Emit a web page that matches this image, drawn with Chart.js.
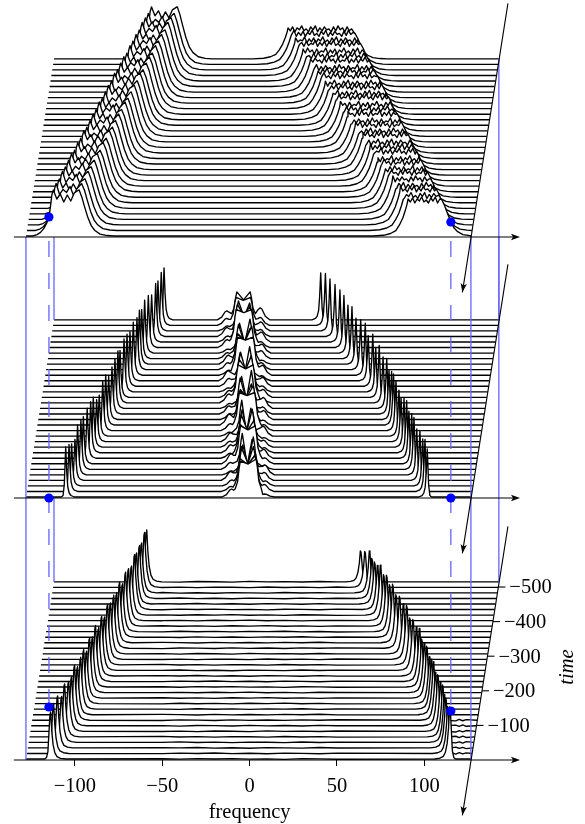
<!DOCTYPE html>
<html>
<head>
<meta charset="utf-8">
<title>frequency / time waterfall</title>
<script src="https://cdn.jsdelivr.net/npm/chart.js@4"></script>
<style>
  html, body { margin: 0; padding: 0; background: #fff; }
  canvas { display: block; }
</style>
</head>
<body>
<canvas id="chart" width="585" height="824"></canvas>
<script>
// ---------- axis data ----------
const freqTicks = [-100, -50, 0, 50, 100];
const timeTicks = [-100, -200, -300, -400, -500];
const timeAxisEnds = [160, -675];
const rowTimes = [0, -16, -32, -48, -64, -80, -96, -112, -128, -144, -160, -176, -192, -208, -224, -240, -256,
  -272, -288, -304, -320, -336, -352, -368, -384, -400, -416, -432, -448, -464, -480, -496, -512];
const panelBase = [587, 326, 64];      // height of each panel's frequency axis
const rowStartFreq = -128, rowEndFreq = 126.8;

// ---------- top panel: two wide humps with a jagged top ----------
const humpLeftFront = [-113.2, -111.6, -109.8, -108, -106.3, -104.5, -102.8, -101, -99.2, -97.5, -95.7, -94, -92.2, -90.4, -88.7, -86.9, -85.2,
  -83.4, -81.6, -79.9, -78.1, -76.4, -74.6, -72.8, -71.1, -69.3, -67.6, -65.8, -64, -62.3, -60.5, -58.8, -57];
const humpLeftAmp = [46, 47, 46, 48, 47, 48, 49, 47, 49, 48, 50, 48, 49, 50, 49, 51, 49, 50, 51, 50, 52, 50, 51, 52, 50, 52, 51, 52, 51, 53, 52, 51, 52];
const humpRightFront = [90.7, 88.5, 86.4, 84.2, 82, 79.9, 77.8, 75.7, 73.5, 71.4, 69.2, 67, 64.9, 62.8, 60.7, 58.5, 56.3,
  54.2, 52, 49.9, 47.8, 45.6, 43.4, 41.3, 39.2, 37, 34.9, 32.7, 30.6, 28.5, 26.3, 24.1, 22];
const humpRightBack = [110.1, 108.5, 106.9, 105.3, 103.7, 102, 100.4, 98.8, 97.2, 95.6, 94, 92.4, 90.8, 89.2, 87.6, 86, 84.4,
  82.8, 81.1, 79.5, 77.9, 76.3, 74.7, 73.1, 71.5, 69.9, 68.3, 66.7, 65.1, 63.5, 61.9, 60.3, 58.6];
const humpRightAmp = [36, 35, 36, 34, 35, 36, 34, 35, 33, 35, 34, 33, 35, 33, 34, 32, 34, 33, 32, 34, 32, 33, 31, 33, 32, 30, 32, 31, 30, 32, 30, 31, 30];
const jagLeftX = [0, 2, 4, 6, 8, 10, 12, 14.6];
const jagLeftA = [0, -9, -4, -12, -5, -11, -3, 0];
const jagLeftB = [0, -11, -6, -9, -3, -12, -5, 0];
const jagRight = [1, -2, 2, -3, 1, -1, 3, -2, 0, -3, 2, -1, 3, -3, 1, -2, 2, -1, 0, -3, 2, -2, 3, -1, 1, -3, 2, -2, 0, -1, 3, -3];
const riseWide = [[-20, 0], [-14, .02], [-10, .07], [-7, .15], [-5, .3], [-3, .5], [-1.5, .72], [-.5, .9]];
const riseSteep = [[-11, 0], [-8.5, .03], [-6.5, .08], [-4.5, .17], [-3, .28], [-1.7, .4], [-.8, .65], [0, .9]];
const fallSoft = [[0, 1], [1.5, .85], [3, .65], [5, .4], [7, .22], [9, .12], [12, .04], [16, .01], [20, 0]];

// ---------- middle and bottom panels: narrow peaks ----------
const midLeftPeak = [-105.3, -103.4, -101.9, -100, -98.5, -96.6, -95.2, -93, -91, -89.5, -87.6, -86.1, -84.1, -82.4, -80.7, -78.8, -77.1,
  -75.4, -74.2, -71.9, -70.2, -68.5, -66.6, -64.5, -63.1, -61.8, -60.1, -58, -56.1, -53.8, -52.5, -50.6, -49];
const midLeftAmp = [50, 47, 42, 41, 50, 49, 47, 50, 51, 50, 42, 41, 49, 50, 43, 47, 50, 52, 47, 53, 52, 49, 53, 52, 54, 49, 53, 52, 47, 53, 50, 53, 52];
const midRightPeak = [101.7, 100.4, 99.1, 97.5, 95.7, 94.1, 92.8, 91.2, 89.9, 88.4, 86.7, 85.5, 83.8, 82.4, 81.3, 79.8, 78.5,
  76.4, 74.2, 72.2, 70.5, 67.9, 66.2, 63.6, 60.9, 58.6, 56.3, 54, 51.7, 48.9, 46, 43.4, 40.7];
const midRightAmp = [48, 52, 47, 50, 46, 52, 50, 47, 52, 49, 44, 46, 50, 51, 48, 44, 50, 46, 52, 44, 52, 45, 52, 50, 46, 52, 48, 52, 52, 52, 52, 52, 47];
const blobCenter = [-0.8, -1.2, -0.6, -1.3, -0.9, -1.4, -1, -1.6, -1.2, -1.7, -1.3, -1.9, -1.5, -2, -1.6, -2.2, -1.8, -2.3, -2, -2.5, -2.2, -2.7, -2.4, -2.9, -2.6, -3.1, -2.8, -3.3, -3, -3.4, -3.2, -3.6, -3.5];
const blobSep = [4.5, 4.3, 4, 3.5, 3, 2.8, 4.2, 4, 3.6, 3.2, 3, 2.6, 4.4, 4.1, 3.7, 3.2, 2.8, 4.3, 4, 3.5, 3, 2.7, 4.5, 4.2, 3.8, 3.3, 3, 4.4, 4, 3.6, 3.2, 4.2, 3.8];
const blobAmpL = [36, 33, 38, 34, 30, 36, 38, 34, 38, 30, 32, 36, 38, 34, 30, 36, 32, 38, 38, 30, 34, 28, 38, 36, 30, 34, 30, 38, 32, 32, 30, 28, 28];
const blobAmpR = [38, 36, 32, 34, 38, 30, 38, 30, 32, 38, 30, 28, 38, 32, 34, 30, 38, 38, 30, 36, 30, 34, 38, 32, 38, 30, 34, 38, 32, 30, 28, 28, 28];
const blobDip = [33, 27, 21, 15, 9, 4, 34, 28, 22, 15, 8, 3, 35, 29, 22, 16, 9, 34, 28, 21, 15, 8, 35, 29, 23, 16, 10, 35, 28, 21, 14, 25, 20];
const bumpL = [8, 5, 6, 9, 4, 7, 10, 5, 8, 6, 9, 4, 7, 11, 6, 8, 5, 9, 7, 4, 8, 10, 5, 7, 9, 6, 4, 8, 6, 9, 5, 7, 9];
const bumpR = [3, 7, 5, 8, 10, 4, 6, 9, 5, 7, 4, 10, 6, 5, 9, 7, 11, 4, 8, 6, 9, 5, 10, 7, 4, 8, 9, 6, 10, 7, 9, 8, 12];
const peakNarrow = [[-2.5, 0], [-1.5, .03], [-.8, .25], [0, 1], [.6, .5], [1.2, .2], [2, .08], [3, .03], [5, 0]];
const blobBump = [[-15, 0], [-12.5, .3], [-10.5, .9], [-9.5, 1], [-8.3, .85]];
const blobWall = [[-3, .22], [-1.6, .42], [-.7, .8], [0, 1]];

const lowLeftPeak = [-114.3, -112.6, -110.3, -108, -106.3, -104, -102.3, -100.6, -98.9, -97.1, -95.4, -93.7, -92, -90.3, -88.6, -86.8, -85.1,
  -83.4, -81.7, -80, -78.2, -76.5, -74.8, -73.1, -71.4, -69.7, -68, -66.2, -65.1, -63.4, -62.2, -60.5, -59.3];
const lowLeftAmp = [47, 50, 52, 46, 53, 50, 49, 55, 48, 52, 54, 47, 55, 50, 56, 49, 54, 48, 55, 51, 53, 50, 55, 48, 54, 52, 49, 55, 51, 53, 50, 55, 52];
const lowRightPeak = [114.9, 113.7, 112.6, 111.7, 110.8, 109.5, 108, 106.6, 105.5, 104.3, 103.2, 101.7, 100.3, 98.8, 97.5, 95.8, 93.8,
  92, 90.2, 88.3, 86.1, 84.1, 82.2, 80.4, 78.7, 77, 75.2, 73.5, 71.8, 70.3, 68.9, 66.3, 63.8];
const lowRightAmp = [52, 47, 50, 48, 52, 49, 51, 48, 53, 50, 47, 52, 50, 48, 53, 49, 51, 47, 54, 50, 52, 48, 53, 47, 51, 46, 50, 44, 42, 40, 42, 36, 31];
const peakWide = [[-3, 0], [-2, .03], [-1.2, .15], [-.6, .55], [0, .95], [.4, 1], [1, .6], [1.8, .3], [2.8, .13], [4, .05], [6, .015], [9, 0]];
const flatX = [-50, -40, -30, -20, -10, 0, 10, 20, 30, 40, 50];
const flatRipple = [0.25, -0.2, 0.35, 0, 0.45, -0.15, 0.2, -0.3, 0.3, 0.1, -0.25, 0.4, -0.1];
const tailX = [118, 120, 122, 124];
const tailRipple = [0.7, -0.6, 0.8, -0.5, 0.6, -0.7];

// ---------- blue markers: [freq, height] ----------
const blueSolidFreq = [-128.06, -112, 126.7, 142.7];
const blueSolidSpans = [[[64, 587]], [[242, 326], [504, 587]], [[64, 587]], [[242, 766], [504, 587]]];
const blueDashFreq = [-114.9, 115.2];
const blueDashEnd = [117, 113];
const dotFreqs = [-114.9, 115.2, -114.9, 115.2, -114.9, 115.2];
const dotHeights = [607, 602, 326, 326, 117, 113];

// ---------- row building ----------
const k2lift = t => 1 - t * 0.346;
const t2shift = t => -t * 0.03125;

function addShape(pts, shape, at, amp, base, mirror) {
  shape.forEach(p => pts.push({ x: at + (mirror ? -p[0] : p[0]), y: base + amp * p[1] }));
}

function buildRow(panel, k) {
  const t = rowTimes[k], shift = t2shift(t), base = panelBase[panel] + k2lift(t);
  const rowEnd = rowEndFreq + shift;
  const pts = [{ x: rowStartFreq + shift, y: base }, { x: rowEnd, y: base }];
  if (panel === 0) {
    const lf = humpLeftFront[k], la = humpLeftAmp[k], rf = humpRightFront[k], rb = humpRightBack[k], ra = humpRightAmp[k];
    addShape(pts, riseSteep, lf, la, base);
    const jag = k % 2 ? jagLeftB : jagLeftA;
    jagLeftX.forEach((x, i) => pts.push({ x: lf + x + .8, y: base + la + jag[i] }));
    addShape(pts, fallSoft, lf + 15.6, la, base);
    addShape(pts, riseWide, rf, ra, base);
    for (let i = 0, x = rf; x < rb; i++, x += 1.3) {
      pts.push({ x: x, y: base + ra + jagRight[(i + k * 3) % jagRight.length] });
    }
    addShape(pts, fallSoft, rb, ra, base);
  } else if (panel === 1) {
    addShape(pts, peakNarrow, midLeftPeak[k], midLeftAmp[k], base);
    addShape(pts, peakNarrow, midRightPeak[k], midRightAmp[k], base, true);
    // middle structure: side bumps, then steep walls of an arch whose top sinks from row to row
    const c = blobCenter[k], s = blobSep[k];
    addShape(pts, blobBump, c, bumpL[k], base);
    addShape(pts, blobBump, c, bumpR[k], base, true);
    addShape(pts, blobWall, c - s, blobAmpL[k], base);
    addShape(pts, blobWall, c + s, blobAmpR[k], base, true);
    pts.push({ x: c, y: base + blobDip[k] });
  } else {
    const lp = lowLeftPeak[k], rp = lowRightPeak[k];
    addShape(pts, peakWide, lp, lowLeftAmp[k], base);
    addShape(pts, peakWide, rp, lowRightAmp[k], base, true);
    flatX.forEach((x, i) => {
      if (x > lp + 10 && x < rp - 10) pts.push({ x: x, y: base + flatRipple[(i + k) % flatRipple.length] });
    });
    if (k > 0 && k < 8) {
      tailX.forEach((x, i) => pts.push({ x: x, y: base + tailRipple[(i + k) % tailRipple.length] }));
    }
  }
  // nothing runs past the slanted time axis
  const kept = pts.filter(p => p.x <= rowEnd);
  kept.sort((a, b) => a.x - b.x);
  return { pts: kept, base };
}

// ---------- datasets (first dataset is painted last) ----------
const BLUE = '#6464ff';
const blackLine = { borderColor: '#000', borderWidth: 1.35, pointRadius: 0, showLine: true, fill: false, clip: false };
const datasets = [];

datasets.push({ data: dotFreqs.map((f, i) => ({ x: f, y: dotHeights[i] })), showLine: false, pointRadius: 4.6,
  pointBackgroundColor: '#0000ff', pointBorderWidth: 0, clip: false });

panelBase.forEach(b => {
  datasets.push({ ...blackLine, borderWidth: 1.1, data: [{ x: -135, y: b }, { x: 153, y: b }] });
  datasets.push({ ...blackLine, borderWidth: 1.1, data: timeAxisEnds.map(t => ({ x: rowEndFreq + t2shift(t), y: b + k2lift(t) - 1 })) });
});
timeTicks.forEach(t => {
  const x = rowEndFreq + t2shift(t), y = panelBase[2] + k2lift(t) - 1;
  datasets.push({ ...blackLine, borderWidth: 1.1, data: [{ x: x, y: y }, { x: x + 4, y: y }] });
});

blueSolidFreq.forEach((f, i) => {
  blueSolidSpans[i].forEach(sp => {
    datasets.push({ ...blackLine, borderColor: BLUE, borderWidth: 1.3, data: [{ x: f, y: sp[0] }, { x: f, y: sp[1] }] });
  });
});
blueDashFreq.forEach((f, i) => {
  datasets.push({ ...blackLine, borderColor: BLUE, borderWidth: 1.3, borderDash: [16, 16], borderDashOffset: -4,
    data: [{ x: f, y: 587 }, { x: f, y: blueDashEnd[i] }] });
});

// front rows first so that back rows are painted underneath them
[2, 1, 0].forEach(panel => {
  rowTimes.forEach((t, k) => {
    const row = buildRow(panel, k);
    datasets.push({ ...blackLine, data: row.pts, fill: { value: row.base }, backgroundColor: '#fff', borderJoinStyle: 'round' });
  });
});

// ---------- text and arrow heads ----------
const FONT = '"Liberation Serif", "Times New Roman", serif';
const minus = v => (v < 0 ? '\u2212' + Math.abs(v) : String(v));

function arrowHead(ctx, x, y, angle) {
  ctx.save();
  ctx.translate(x, y);
  ctx.rotate(angle);
  ctx.beginPath();
  ctx.moveTo(0, 0);
  ctx.lineTo(-9, -3.2);
  ctx.lineTo(-7, 0);
  ctx.lineTo(-9, 3.2);
  ctx.closePath();
  ctx.fillStyle = '#000';
  ctx.fill();
  ctx.restore();
}

const annotate = {
  id: 'annotate',
  afterDatasetsDraw(chart) {
    const ctx = chart.ctx, xs = chart.scales.x, ys = chart.scales.y;
    panelBase.forEach(b => {
      arrowHead(ctx, xs.getPixelForValue(154.8), ys.getPixelForValue(b), 0);
      const t = timeAxisEnds[0];
      const tipX = xs.getPixelForValue(rowEndFreq + t2shift(t)), tipY = ys.getPixelForValue(b + k2lift(t) - 1);
      arrowHead(ctx, tipX, tipY, Math.atan2(55, -8.7));
    });
    ctx.save();
    ctx.fillStyle = '#000';
    ctx.font = '20.5px ' + FONT;
    ctx.textBaseline = 'middle';
    ctx.textAlign = 'left';
    timeTicks.forEach(t => {
      const x = xs.getPixelForValue(rowEndFreq + t2shift(t) + 4), y = ys.getPixelForValue(panelBase[2] + k2lift(t) - 1);
      ctx.fillText(minus(t), x + 4, y + 1);
    });
    ctx.textAlign = 'center';
    ctx.fillText('frequency', xs.getPixelForValue(0), ys.getPixelForValue(11));
    ctx.translate(568, 667);
    ctx.rotate(-Math.PI / 2);
    ctx.font = 'italic 20.5px ' + FONT;
    ctx.fillText('time', 0, 0);
    ctx.restore();
  }
};

Chart.defaults.color = '#000';
new Chart(document.getElementById('chart'), {
  type: 'scatter',
  data: { datasets },
  plugins: [annotate],
  options: {
    responsive: false,
    animation: false,
    devicePixelRatio: 1,
    layout: { autoPadding: false, padding: { left: 14, right: 65, top: 0, bottom: 0 } },
    plugins: { legend: { display: false }, tooltip: { enabled: false }, filler: { drawTime: 'beforeDatasetDraw' } },
    scales: {
      x: {
        type: 'linear',
        min: -134.9,
        max: 154.8,
        position: { y: 64 },
        afterBuildTicks: s => { s.ticks = freqTicks.map(v => ({ value: v })); },
        border: { display: false },
        grid: { drawOnChartArea: false, drawTicks: true, tickLength: 6, color: '#000', lineWidth: 1 },
        ticks: { color: '#000', padding: 8, maxRotation: 0, autoSkip: false, font: { family: FONT, size: 20.5 }, callback: v => minus(v) }
      },
      y: { type: 'linear', min: 0, max: 824, display: false }
    }
  }
});
</script>
</body>
</html>
